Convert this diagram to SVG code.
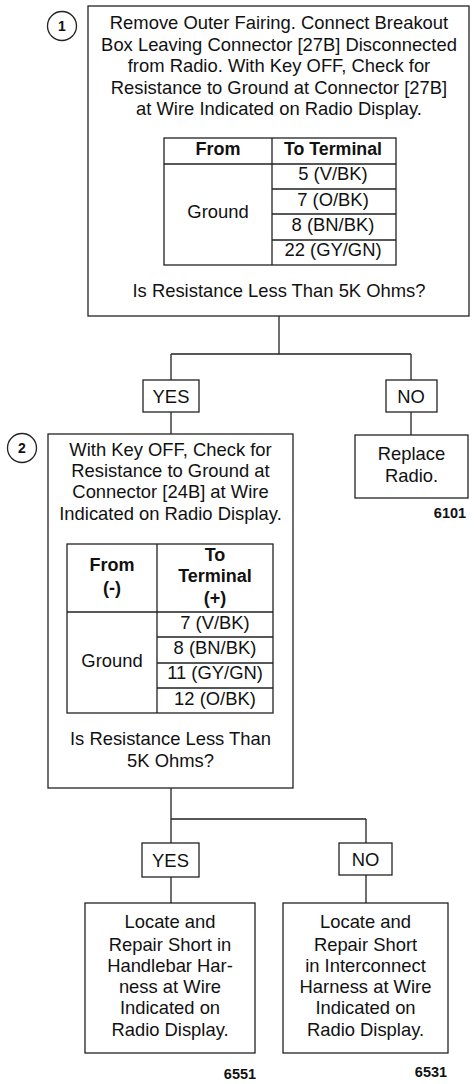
<svg xmlns="http://www.w3.org/2000/svg" width="474" height="1084" viewBox="0 0 474 1084">
<style>
.b{fill:#fff;stroke:#222;stroke-width:1.3}
.l{fill:none;stroke:#222;stroke-width:1.3}
text{font-family:"Liberation Sans",Arial,sans-serif;fill:#111;text-anchor:middle}
.t{font-size:18.4px}
.h{font-size:18px;font-weight:bold}
.n{font-size:14.5px;font-weight:bold}
.c{font-size:14px;font-weight:bold}
</style>
<rect width="474" height="1084" fill="#fff"/>
<g id="connectors">
<path class="l" d="M279 316V354M171 354H411M171 354V380M411 354V380M171 412V434M411 412V435"/>
<path class="l" d="M171 788V819H366M171 819V843M366 819V843M171 877V903M366 875V903"/>
</g>
<g id="step1">
<circle class="b" cx="62" cy="26" r="14.5"/>
<text class="c" x="62" y="31">1</text>
<rect class="b" x="88" y="6" width="381" height="310"/>
<text class="t" x="279" y="29">Remove Outer Fairing. Connect Breakout</text>
<text class="t" x="279" y="51">Box Leaving Connector [27B] Disconnected</text>
<text class="t" x="279" y="72">from Radio. With Key OFF, Check for</text>
<text class="t" x="279" y="94">Resistance to Ground at Connector [27B]</text>
<text class="t" x="279" y="115">at Wire Indicated on Radio Display.</text>
<rect class="b" x="164" y="138" width="232" height="127"/>
<path class="l" d="M164 164H396M272 138V265M272 189H396M272 214H396M272 240H396"/>
<text class="h" x="218" y="155">From</text>
<text class="h" x="333" y="155" textLength="98" lengthAdjust="spacingAndGlyphs">To Terminal</text>
<text class="t" x="218" y="218">Ground</text>
<text class="t" x="333" y="180">5 (V/BK)</text>
<text class="t" x="333" y="206">7 (O/BK)</text>
<text class="t" x="333" y="231">8 (BN/BK)</text>
<text class="t" x="333" y="256">22 (GY/GN)</text>
<text class="t" x="279" y="297">Is Resistance Less Than 5K Ohms?</text>
</g>
<g id="yes1">
<rect class="b" x="143" y="380" width="56" height="32"/>
<text class="t" x="171" y="403">YES</text>
</g>
<g id="no1">
<rect class="b" x="386" y="380" width="51" height="32"/>
<text class="t" x="411" y="403">NO</text>
</g>
<g id="replace">
<rect class="b" x="355" y="435" width="113" height="63"/>
<text class="t" x="411.5" y="460">Replace</text>
<text class="t" x="411.5" y="482">Radio.</text>
<text class="n" x="450" y="518">6101</text>
</g>
<g id="step2">
<circle class="b" cx="22" cy="448" r="14.5"/>
<text class="c" x="22" y="453">2</text>
<rect class="b" x="48" y="434" width="245" height="354"/>
<text class="t" x="170.5" y="456">With Key OFF, Check for</text>
<text class="t" x="170.5" y="477">Resistance to Ground at</text>
<text class="t" x="170.5" y="498">Connector [24B] at Wire</text>
<text class="t" x="170.5" y="520">Indicated on Radio Display.</text>
<rect class="b" x="67" y="544" width="206" height="169"/>
<path class="l" d="M67 612H273M157 544V713M157 637H273M157 663H273M157 688H273"/>
<text class="h" x="112" y="571">From</text>
<text class="h" x="112" y="594">(-)</text>
<text class="h" x="215" y="561">To</text>
<text class="h" x="215" y="582">Terminal</text>
<text class="h" x="215" y="604">(+)</text>
<text class="t" x="112" y="667">Ground</text>
<text class="t" x="215" y="629">7 (V/BK)</text>
<text class="t" x="215" y="654">8 (BN/BK)</text>
<text class="t" x="215" y="679">11 (GY/GN)</text>
<text class="t" x="215" y="705">12 (O/BK)</text>
<text class="t" x="170.5" y="745">Is Resistance Less Than</text>
<text class="t" x="170.5" y="767">5K Ohms?</text>
</g>
<g id="yes2">
<rect class="b" x="142" y="843" width="57" height="34"/>
<text class="t" x="170.5" y="867">YES</text>
</g>
<g id="no2">
<rect class="b" x="339" y="843" width="53" height="32"/>
<text class="t" x="365.5" y="866">NO</text>
</g>
<g id="handlebar">
<rect class="b" x="85" y="903" width="170" height="150"/>
<text class="t" x="170" y="928">Locate and</text>
<text class="t" x="170" y="951">Repair Short in</text>
<text class="t" x="170" y="972">Handlebar Har-</text>
<text class="t" x="170" y="993">ness at Wire</text>
<text class="t" x="170" y="1014">Indicated on</text>
<text class="t" x="170" y="1036">Radio Display.</text>
<text class="n" x="240" y="1079">6551</text>
</g>
<g id="interconnect">
<rect class="b" x="283" y="903" width="165" height="150"/>
<text class="t" x="365.5" y="928">Locate and</text>
<text class="t" x="365.5" y="951">Repair Short</text>
<text class="t" x="365.5" y="972">in Interconnect</text>
<text class="t" x="365.5" y="993">Harness at Wire</text>
<text class="t" x="365.5" y="1014">Indicated on</text>
<text class="t" x="365.5" y="1036">Radio Display.</text>
<text class="n" x="431" y="1077">6531</text>
</g>
</svg>
